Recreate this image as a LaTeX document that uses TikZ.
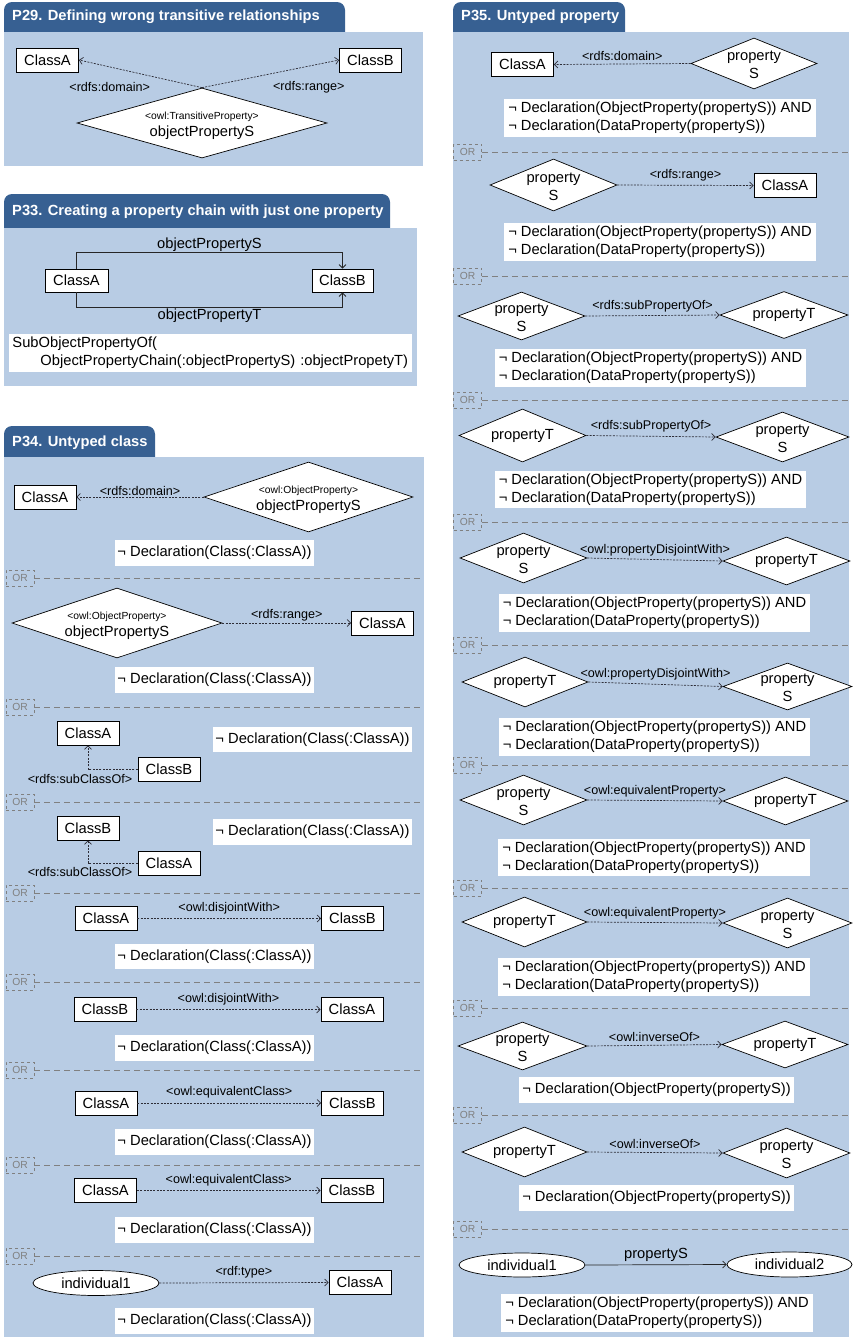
\documentclass[tikz,border=0pt]{standalone}
\usepackage{fontspec}
\setmainfont{Liberation Sans}
\usetikzlibrary{shapes.geometric,arrows.meta}
\definecolor{tabblue}{RGB}{55,96,146}
\definecolor{bodyblue}{RGB}{184,204,228}
\definecolor{orgray}{RGB}{128,128,128}
\definecolor{depgray}{RGB}{45,45,55}
\newcommand{\fbig}{\fontsize{14.7}{17}\selectfont}
\newcommand{\fnote}{\fontsize{14.7}{18}\selectfont}
\newcommand{\flbl}{\fontsize{12.6}{14}\selectfont}
\newcommand{\fsmall}{\fontsize{10.3}{12}\selectfont}
\newcommand{\ftitle}{\fontsize{14.7}{17}\selectfont\bfseries}
\tikzset{
  tabshape/.style={fill=tabblue, rounded corners=8pt},
  panelbody/.style={fill=bodyblue},
  ttl/.style={anchor=west, text=white, font=\ftitle, inner sep=0pt},
  cls/.style={draw=black, fill=white, line width=0.8pt, minimum width=62pt, minimum height=24pt, inner sep=0pt, font=\fbig},
  prop/.style 2 args={diamond, draw=black, fill=white, line width=0.7pt, inner sep=0pt, minimum width=#1, minimum height=#2},
  pl/.style={align=center, font=\fbig, inner sep=0pt},
  plS/.style={pl, yshift=-1.5pt},
  plO/.style={pl, yshift=-2.5pt},
  ind/.style={ellipse, draw=black, fill=white, line width=0.7pt, minimum width=126pt, minimum height=25pt, inner sep=0pt, font=\fbig},
  note/.style={fill=white, inner xsep=2.5pt, inner ysep=3pt, minimum height=25.5pt, font=\fbig},
  note2/.style={fill=white, inner xsep=4pt, inner ysep=3pt, align=left, font=\fnote},
  lbl/.style={font=\flbl, inner sep=1.5pt, text=black},
  dep/.style={draw=depgray, line width=0.7pt, dash pattern=on 2pt off 1.3pt, -{Straight Barb[length=3.5pt,width=7pt]}},
  rel/.style={draw=black!85, line width=0.8pt, -{Straight Barb[length=3.5pt,width=7pt]}},
  orbox/.style={draw=orgray, dashed, line width=0.8pt, text=orgray, font=\fsmall, minimum width=28pt, minimum height=16pt, inner sep=0pt},
  orline/.style={draw=orgray, line width=0.9pt, dash pattern=on 6pt off 4pt},
}
\begin{document}
\begin{tikzpicture}[x=1pt,y=-1pt]
\useasboundingbox (0,0) rectangle (852,1339);

% ================= P29 =================
\fill[tabshape] (4,40) -- (4,2) -- (345,2) -- (345,40) -- cycle;
\fill[panelbody] (4,32) rectangle (423,166);
\node[ttl] (t29) at (12,17) {P29. Defining wrong transitive relationships};
\node[cls] (c29a) at (47.5,60) {ClassA};
\node[cls] (c29b) at (370.5,60) {ClassB};
\node[prop={250}{70}, label={[plO]center:{{\fsmall <owl:TransitiveProperty>}\\[0pt]objectPropertyS}}] (d29) at (202,123) {};
\draw[dep] (d29.north) -- node[lbl, pos=0.75, yshift=-20pt]{<rdfs:domain>} (c29a.east);
\draw[dep] (d29.north) -- node[lbl, pos=0.75, yshift=-20pt, xshift=4pt]{<rdfs:range>} (c29b.west);

% ================= P33 =================
\fill[tabshape] (4,236) -- (4,194) -- (390,194) -- (390,236) -- cycle;
\fill[panelbody] (4,228) rectangle (417,386);
\node[ttl] (t33) at (12,212) {P33. Creating a property chain with just one property};
\node[cls, minimum width=63pt, minimum height=23pt] (c33a) at (76.5,280.5) {ClassA};
\node[cls, minimum width=61pt, minimum height=23pt] (c33b) at (342.5,280.5) {ClassB};
\draw[rel] (c33a.north) -- ++(0,-16) -| node[pos=0.25, above, inner sep=1pt, font=\fbig]{objectPropertyS} (c33b.north);
\draw[rel] (c33a.south) -- ++(0,15) -| node[pos=0.25, below, inner sep=1pt, font=\fbig]{objectPropertyT} (c33b.south);
\node[note2, text width=396pt, inner xsep=3.5pt] (n33) at (210.5,353) {SubObjectPropertyOf(\\\hspace*{28pt}ObjectPropertyChain(:objectPropertyS) :objectPropetyT)};

% ================= P34 =================
\fill[tabshape] (4,465) -- (4,426) -- (155,426) -- (155,465) -- cycle;
\fill[panelbody] (4,457) rectangle (424,1337);
\node[ttl] (t34) at (12,443) {P34. Untyped class};
\foreach \yy [count=\i] in {578,707,802,893,982,1070,1165,1256} {
  \node[orbox] (orL\i) at (20,\yy) {OR};
  \draw[orline] (orL\i.east) -- (424,\yy);
}
% row 1
\node[cls] (a1c) at (45,497) {ClassA};
\node[prop={209}{70}, label={[plO]center:{{\fsmall <owl:ObjectProperty>}\\[0pt]objectPropertyS}}] (a1p) at (308.5,497) {};
\draw[dep] (a1p.west) -- node[lbl, above]{<rdfs:domain>} (a1c.east);
\node[note] (a1n) at (214.5,553) {¬ Declaration(Class(:ClassA))};
% row 2
\node[prop={210}{70}, label={[plO]center:{{\fsmall <owl:ObjectProperty>}\\[0pt]objectPropertyS}}] (a2p) at (117,623) {};
\node[cls] (a2c) at (382.5,623) {ClassA};
\draw[dep] (a2p.east) -- node[lbl, above]{<rdfs:range>} (a2c.west);
\node[note] (a2n) at (214.5,680) {¬ Declaration(Class(:ClassA))};
% row 3
\node[cls] (a3a) at (88,733) {ClassA};
\node[cls] (a3b) at (169,769.5) {ClassB};
\draw[dep] (a3b.west) -| node[lbl, pos=0.5, xshift=-8pt, yshift=-9pt]{<rdfs:subClassOf>} (a3a.south);
\node[note] (a3n) at (312.5,739.5) {¬ Declaration(Class(:ClassA))};
% row 4
\node[cls] (a4a) at (88,828) {ClassB};
\node[cls] (a4b) at (169,863) {ClassA};
\draw[dep] (a4b.west) -| node[lbl, pos=0.5, xshift=-8pt, yshift=-9pt]{<rdfs:subClassOf>} (a4a.south);
\node[note] (a4n) at (312.5,832) {¬ Declaration(Class(:ClassA))};
% row 5
\node[cls] (a5a) at (106,918.5) {ClassA};
\node[cls] (a5b) at (352.5,918.5) {ClassB};
\draw[dep] (a5a.east) -- node[lbl, above, yshift=3pt]{<owl:disjointWith>} (a5b.west);
\node[note] (a5n) at (214.5,956.5) {¬ Declaration(Class(:ClassA))};
% row 6
\node[cls] (a6a) at (105,1009.5) {ClassB};
\node[cls] (a6b) at (352,1009.5) {ClassA};
\draw[dep] (a6a.east) -- node[lbl, above, yshift=3pt]{<owl:disjointWith>} (a6b.west);
\node[note] (a6n) at (214.5,1048) {¬ Declaration(Class(:ClassA))};
% row 7
\node[cls] (a7a) at (106,1103) {ClassA};
\node[cls] (a7b) at (352.5,1103) {ClassB};
\draw[dep] (a7a.east) -- node[lbl, above, yshift=3pt]{<owl:equivalentClass>} (a7b.west);
\node[note] (a7n) at (214.5,1142) {¬ Declaration(Class(:ClassA))};
% row 8
\node[cls] (a8a) at (105.5,1190.5) {ClassA};
\node[cls] (a8b) at (352,1190.5) {ClassB};
\draw[dep] (a8a.east) -- node[lbl, above, yshift=3pt]{<owl:equivalentClass>} (a8b.west);
\node[note] (a8n) at (214.5,1230) {¬ Declaration(Class(:ClassA))};
% row 9
\node[ind] (a9i) at (96,1283) {individual1};
\node[cls] (a9c) at (360,1282.5) {ClassA};
\draw[dep] (a9i.east) -- node[lbl, above, yshift=3pt]{<rdf:type>} (a9c.west);
\node[note] (a9n) at (214.5,1321) {¬ Declaration(Class(:ClassA))};

% ================= P35 =================
\fill[tabshape] (453,40) -- (453,2) -- (625,2) -- (625,40) -- cycle;
\fill[panelbody] (453,32) rectangle (849,1337);
\node[ttl] (t35) at (461,17) {P35. Untyped property};
\foreach \yy [count=\i] in {152,276,400,522,645,765,888,1008,1115,1229} {
  \node[orbox] (orR\i) at (467.5,\yy) {OR};
  \draw[orline] (orR\i.east) -- (849,\yy);
}
% row 1
\node[cls] (b1c) at (522.5,64.5) {ClassA};
\node[prop={126}{51}, label={[plS]center:{property\\[1pt]S}}] (b1p) at (754,63.5) {};
\draw[dep] (b1p.west) -- node[lbl, above, yshift=2pt]{<rdfs:domain>} (b1c.east);
\node[note2] (b1n) at (660,118) {¬ Declaration(ObjectProperty(propertyS)) AND\\¬ Declaration(DataProperty(propertyS))};
% row 2
\node[prop={127}{52}, label={[plS]center:{property\\[1pt]S}}] (b2p) at (553.5,185) {};
\node[cls] (b2c) at (785,185.5) {ClassA};
\draw[dep] (b2p.east) -- node[lbl, above, yshift=2pt]{<rdfs:range>} (b2c.west);
\node[note2] (b2n) at (660,242) {¬ Declaration(ObjectProperty(propertyS)) AND\\¬ Declaration(DataProperty(propertyS))};
% row 3
\node[prop={127}{48}, label={[plS]center:{property\\[1pt]S}}] (b3s) at (521.5,316) {};
\node[prop={128}{47}, label={[pl]center:{propertyT}}] (b3t) at (784,315) {};
\draw[dep] (b3s.east) -- node[lbl, above, yshift=2pt]{<rdfs:subPropertyOf>} (b3t.west);
\node[note2] (b3n) at (650.5,368) {¬ Declaration(ObjectProperty(propertyS)) AND\\¬ Declaration(DataProperty(propertyS))};
% row 4
\node[prop={127}{53}, label={[pl]center:{propertyT}}] (b4t) at (522.5,435.5) {};
\node[prop={133}{50}, label={[plS]center:{property\\[1pt]S}}] (b4s) at (782.5,437) {};
\draw[dep] (b4t.east) -- node[lbl, above, yshift=2pt]{<rdfs:subPropertyOf>} (b4s.west);
\node[note2] (b4n) at (650.5,489.5) {¬ Declaration(ObjectProperty(propertyS)) AND\\¬ Declaration(DataProperty(propertyS))};
% row 5
\node[prop={127}{50}, label={[plS]center:{property\\[1pt]S}}] (b5s) at (523.5,558) {};
\node[prop={127}{48}, label={[pl]center:{propertyT}}] (b5t) at (786.5,561) {};
\draw[dep] (b5s.east) -- node[lbl, above, yshift=2pt]{<owl:propertyDisjointWith>} (b5t.west);
\node[note2] (b5n) at (654.5,613) {¬ Declaration(ObjectProperty(propertyS)) AND\\¬ Declaration(DataProperty(propertyS))};
% row 6
\node[prop={126}{50}, label={[pl]center:{propertyT}}] (b6t) at (525,682) {};
\node[prop={129}{47}, label={[plS]center:{property\\[1pt]S}}] (b6s) at (787.5,686.5) {};
\draw[dep] (b6t.east) -- node[lbl, above, yshift=2pt]{<owl:propertyDisjointWith>} (b6s.west);
\node[note2] (b6n) at (654.5,737) {¬ Declaration(ObjectProperty(propertyS)) AND\\¬ Declaration(DataProperty(propertyS))};
% row 7
\node[prop={127}{50}, label={[plS]center:{property\\[1pt]S}}] (b7s) at (523.5,800) {};
\node[prop={125}{48}, label={[pl]center:{propertyT}}] (b7t) at (785.5,801) {};
\draw[dep] (b7s.east) -- node[lbl, above, yshift=2pt]{<owl:equivalentProperty>} (b7t.west);
\node[note2] (b7n) at (654,857.5) {¬ Declaration(ObjectProperty(propertyS)) AND\\¬ Declaration(DataProperty(propertyS))};
% row 8
\node[prop={125}{50}, label={[pl]center:{propertyT}}] (b8t) at (524.5,922) {};
\node[prop={129}{50}, label={[plS]center:{property\\[1pt]S}}] (b8s) at (787.5,923) {};
\draw[dep] (b8t.east) -- node[lbl, above, yshift=2pt]{<owl:equivalentProperty>} (b8s.west);
\node[note2] (b8n) at (654,977) {¬ Declaration(ObjectProperty(propertyS)) AND\\¬ Declaration(DataProperty(propertyS))};
% row 9
\node[prop={129}{48}, label={[plS]center:{property\\[1pt]S}}] (b9s) at (522.5,1046) {};
\node[prop={126}{47}, label={[pl]center:{propertyT}}] (b9t) at (785,1044.5) {};
\draw[dep] (b9s.east) -- node[lbl, above, yshift=2pt]{<owl:inverseOf>} (b9t.west);
\node[note, inner xsep=3pt] (b9n) at (656.5,1090) {¬ Declaration(ObjectProperty(propertyS))};
% row 10
\node[prop={125}{50}, label={[pl]center:{propertyT}}] (b10t) at (524.5,1152) {};
\node[prop={127}{50}, label={[plS]center:{property\\[1pt]S}}] (b10s) at (786.5,1153) {};
\draw[dep] (b10t.east) -- node[lbl, above, yshift=2pt]{<owl:inverseOf>} (b10s.west);
\node[note, inner xsep=3pt] (b10n) at (656.5,1198) {¬ Declaration(ObjectProperty(propertyS))};
% row 11
\node[ind, minimum height=24pt] (b11a) at (522,1265) {individual1};
\node[ind, minimum width=125pt] (b11b) at (789.5,1264.5) {individual2};
\draw[rel, line width=0.7pt] (b11a.east) -- node[above, inner sep=3pt, font=\fbig]{propertyS} (b11b.west);
\node[note2] (b11n) at (657,1313) {¬ Declaration(ObjectProperty(propertyS)) AND\\¬ Declaration(DataProperty(propertyS))};
\end{tikzpicture}
\end{document}
